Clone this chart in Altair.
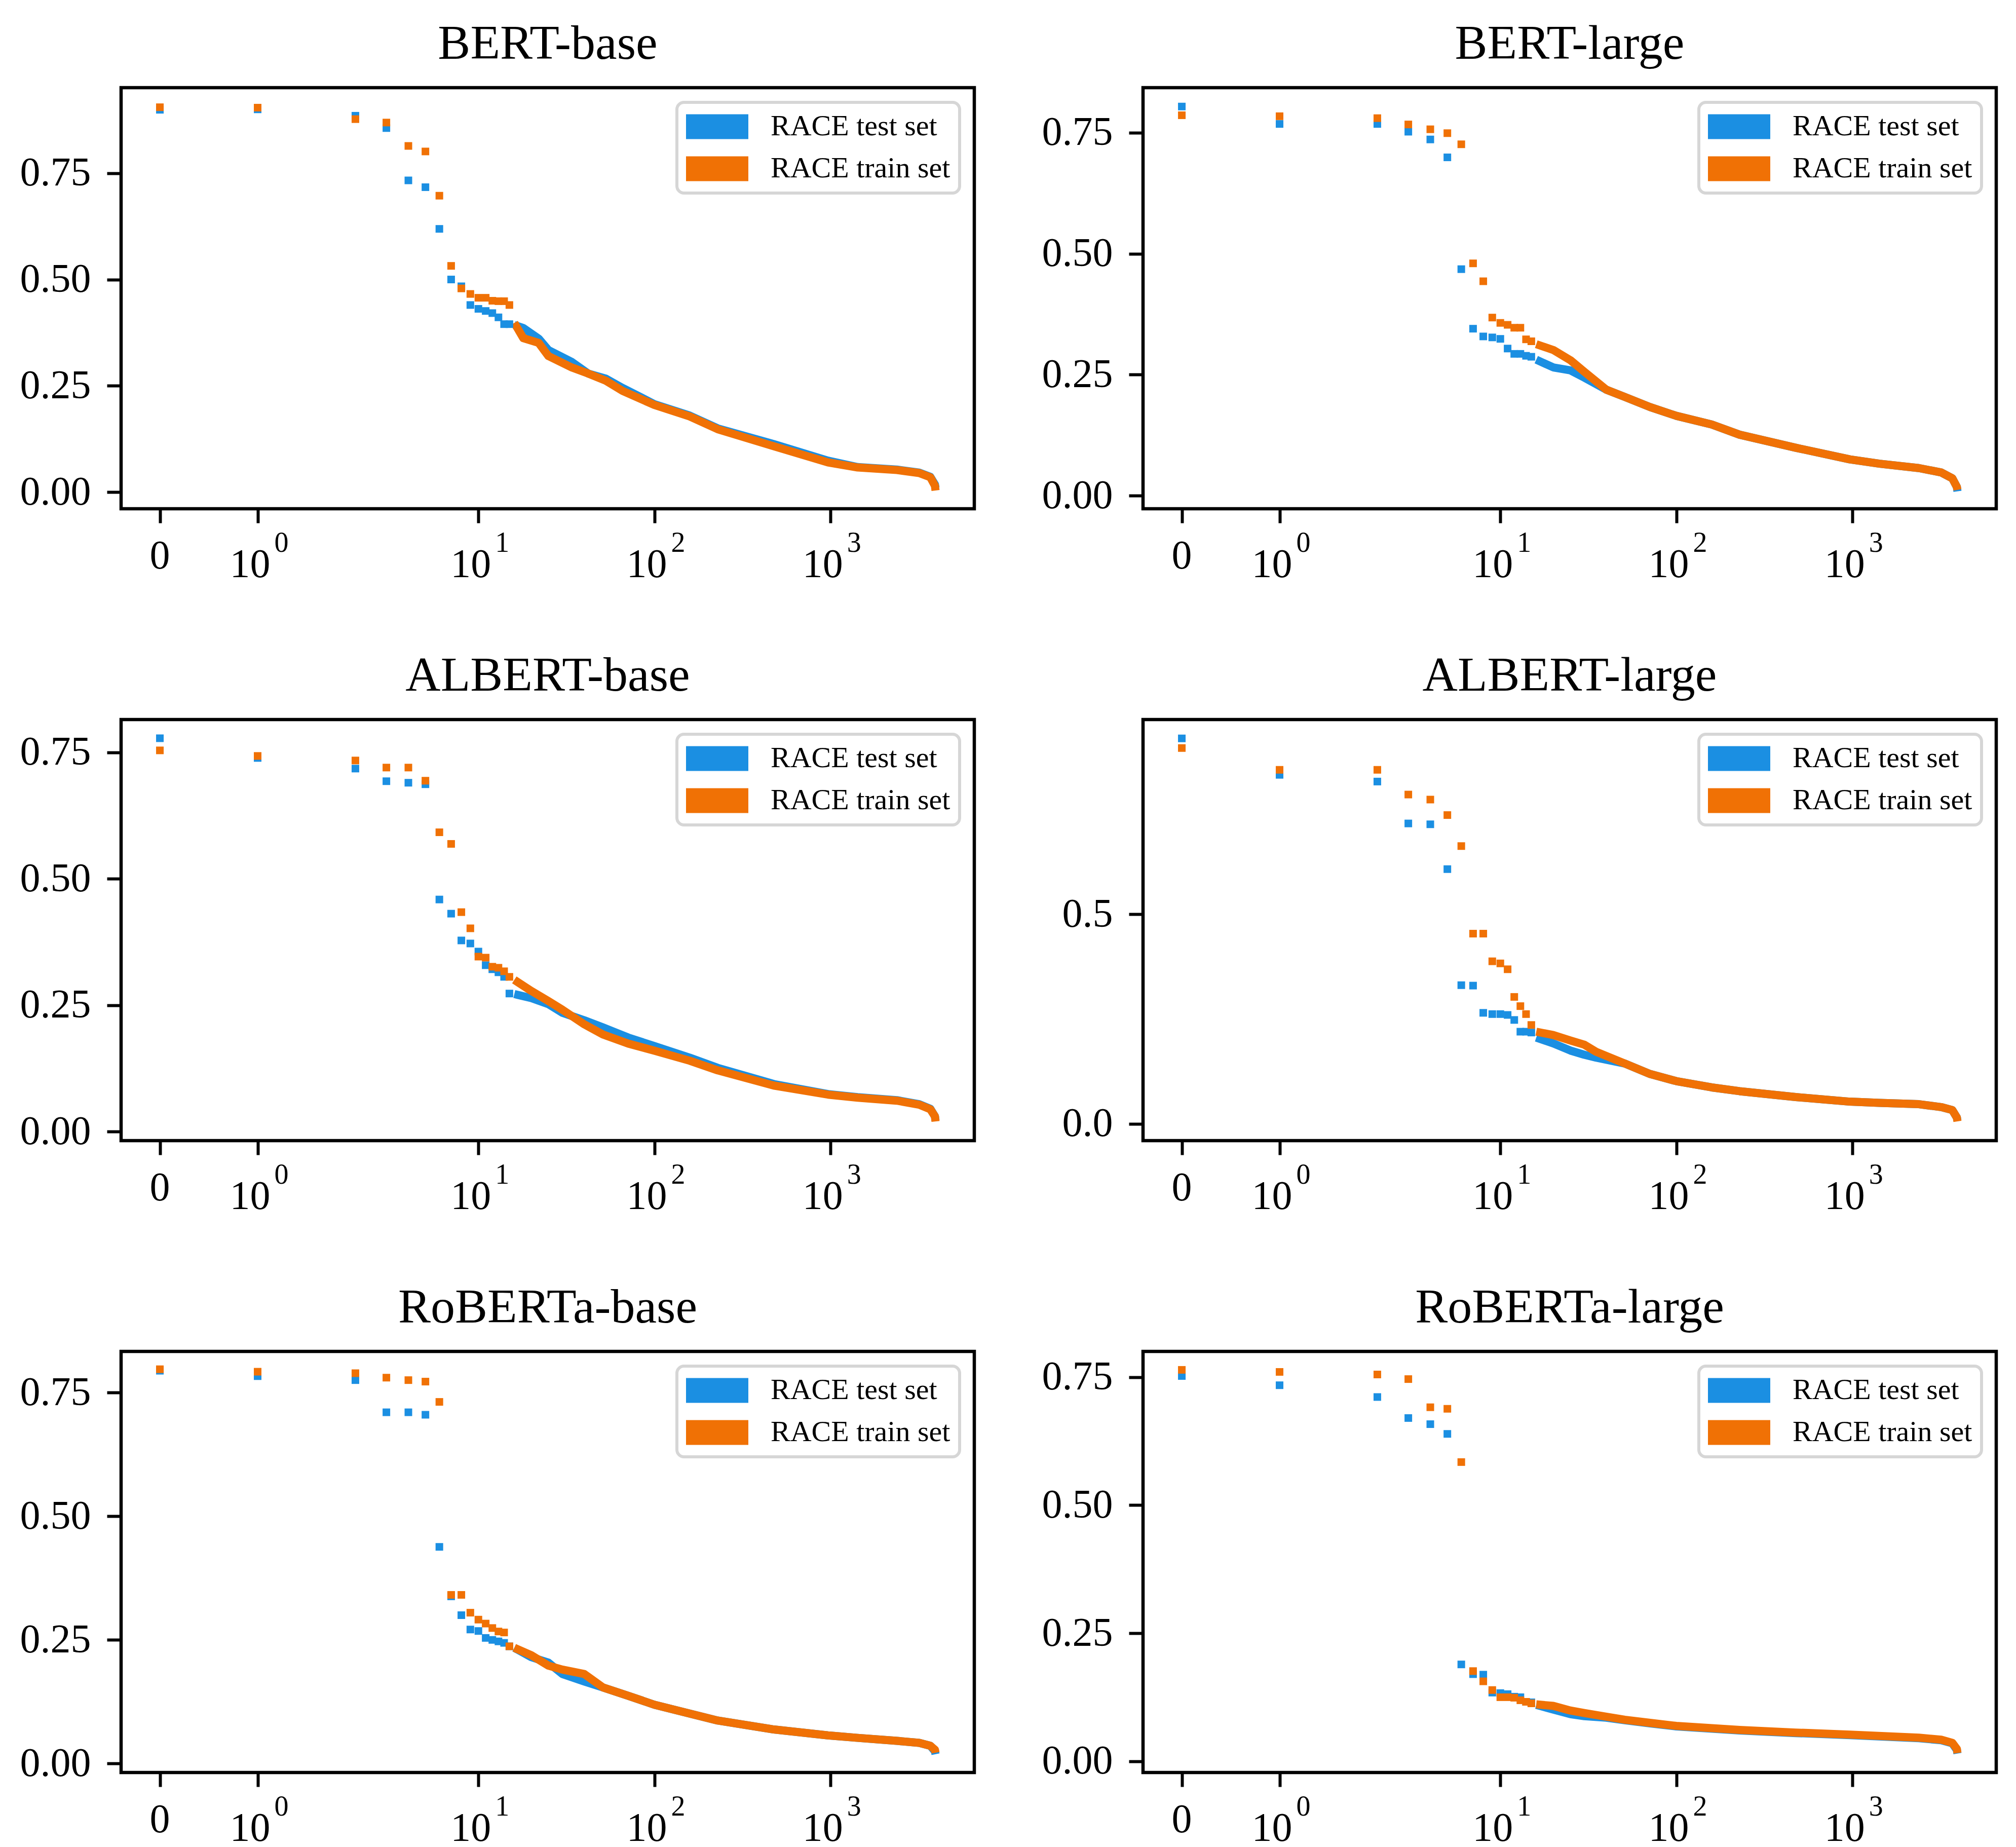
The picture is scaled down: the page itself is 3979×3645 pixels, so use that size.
import math
import altair as alt
import pandas as pd

FONT = "Liberation Serif"
BLUE = "#1b8fe2"
ORANGE = "#f07105"
SERIES = ["RACE test set", "RACE train set"]

# x tick labels (symlog axis, linthresh = 2)
X_TICK_RANKS = [0, 1, 10, 100, 1000]
X_TICK_BASE = ["0", "10", "10", "10", "10"]
X_TICK_EXP = ["", "0", "1", "2", "3"]
LAST_RANK = 3960

# ---------------- BERT-base ----------------
BERT_BASE_TEST_HEAD = [0.899, 0.900, 0.885, 0.856, 0.733, 0.717, 0.619, 0.500, 0.484, 0.440, 0.431, 0.426, 0.421, 0.411, 0.395, 0.395]
BERT_BASE_TRAIN_HEAD = [0.905, 0.904, 0.877, 0.869, 0.814, 0.801, 0.697, 0.532, 0.479, 0.466, 0.457, 0.457, 0.450, 0.449, 0.449, 0.440]
BERT_BASE_TAIL_RANKS = [16, 18, 22, 25, 34, 42, 53, 66, 100, 159, 229, 477, 970, 1430, 2390, 3200, 3700, 3930, 3960]
BERT_BASE_TEST_TAIL = [0.393, 0.386, 0.361, 0.334, 0.306, 0.279, 0.267, 0.245, 0.207, 0.180, 0.150, 0.113, 0.074, 0.059, 0.053, 0.046, 0.036, 0.018, 0.010]
BERT_BASE_TRAIN_TAIL = [0.398, 0.362, 0.351, 0.320, 0.293, 0.279, 0.262, 0.238, 0.205, 0.178, 0.148, 0.108, 0.070, 0.058, 0.052, 0.045, 0.035, 0.015, 0.004]

# ---------------- BERT-large ----------------
BERT_LARGE_TEST_HEAD = [0.804, 0.768, 0.768, 0.752, 0.736, 0.699, 0.468, 0.345, 0.329, 0.327, 0.324, 0.304, 0.293, 0.293, 0.289, 0.287]
BERT_LARGE_TRAIN_HEAD = [0.786, 0.784, 0.780, 0.767, 0.757, 0.749, 0.726, 0.480, 0.443, 0.368, 0.357, 0.353, 0.347, 0.347, 0.323, 0.319]
BERT_LARGE_TAIL_RANKS = [16, 20, 25, 30, 40, 51, 71, 100, 159, 229, 477, 970, 1430, 2390, 3200, 3700, 3930, 3960]
BERT_LARGE_TEST_TAIL = [0.281, 0.265, 0.259, 0.244, 0.219, 0.204, 0.183, 0.165, 0.147, 0.126, 0.099, 0.075, 0.066, 0.057, 0.048, 0.036, 0.018, 0.009]
BERT_LARGE_TRAIN_TAIL = [0.313, 0.301, 0.280, 0.256, 0.219, 0.204, 0.183, 0.165, 0.147, 0.126, 0.099, 0.075, 0.066, 0.057, 0.048, 0.036, 0.018, 0.012]

# ---------------- ALBERT-base ----------------
ALBERT_BASE_TEST_HEAD = [0.778, 0.739, 0.718, 0.693, 0.690, 0.687, 0.459, 0.431, 0.378, 0.372, 0.356, 0.329, 0.321, 0.315, 0.306, 0.273]
ALBERT_BASE_TRAIN_HEAD = [0.754, 0.743, 0.734, 0.720, 0.720, 0.694, 0.592, 0.569, 0.434, 0.402, 0.346, 0.344, 0.326, 0.324, 0.317, 0.306]
ALBERT_BASE_TAIL_RANKS = [16, 20, 25, 30, 40, 51, 71, 100, 159, 229, 477, 970, 1430, 2390, 3200, 3700, 3930, 3960]
ALBERT_BASE_TEST_TAIL = [0.272, 0.264, 0.252, 0.235, 0.220, 0.206, 0.186, 0.169, 0.146, 0.126, 0.094, 0.074, 0.068, 0.062, 0.054, 0.045, 0.030, 0.022]
ALBERT_BASE_TRAIN_TAIL = [0.300, 0.278, 0.258, 0.241, 0.212, 0.192, 0.174, 0.160, 0.140, 0.121, 0.091, 0.073, 0.067, 0.061, 0.053, 0.044, 0.030, 0.020]

# ---------------- ALBERT-large ----------------
ALBERT_LARGE_TEST_HEAD = [0.920, 0.833, 0.817, 0.717, 0.715, 0.608, 0.331, 0.330, 0.265, 0.262, 0.262, 0.260, 0.248, 0.220, 0.220, 0.218]
ALBERT_LARGE_TRAIN_HEAD = [0.897, 0.845, 0.845, 0.786, 0.774, 0.737, 0.663, 0.454, 0.454, 0.388, 0.383, 0.369, 0.303, 0.281, 0.262, 0.236]
ALBERT_LARGE_TAIL_RANKS = [16, 20, 25, 30, 35, 51, 71, 100, 159, 229, 477, 970, 1430, 2390, 3200, 3700, 3930, 3960]
ALBERT_LARGE_TEST_TAIL = [0.206, 0.192, 0.175, 0.165, 0.158, 0.144, 0.119, 0.102, 0.087, 0.078, 0.064, 0.053, 0.050, 0.047, 0.040, 0.033, 0.015, 0.008]
ALBERT_LARGE_TRAIN_TAIL = [0.220, 0.212, 0.199, 0.189, 0.172, 0.144, 0.119, 0.102, 0.087, 0.078, 0.064, 0.053, 0.050, 0.047, 0.040, 0.033, 0.015, 0.006]

# ---------------- RoBERTa-base ----------------
ROBERTA_BASE_TEST_HEAD = [0.794, 0.783, 0.775, 0.710, 0.710, 0.705, 0.438, 0.338, 0.300, 0.271, 0.268, 0.254, 0.250, 0.247, 0.244, 0.237]
ROBERTA_BASE_TRAIN_HEAD = [0.797, 0.792, 0.789, 0.780, 0.775, 0.772, 0.731, 0.341, 0.341, 0.305, 0.291, 0.283, 0.274, 0.267, 0.265, 0.237]
ROBERTA_BASE_TAIL_RANKS = [16, 20, 25, 30, 40, 51, 71, 100, 159, 229, 477, 970, 1430, 2390, 3200, 3700, 3930, 3960]
ROBERTA_BASE_TEST_TAIL = [0.234, 0.215, 0.204, 0.181, 0.166, 0.154, 0.137, 0.119, 0.101, 0.087, 0.069, 0.057, 0.052, 0.046, 0.042, 0.036, 0.025, 0.019]
ROBERTA_BASE_TRAIN_TAIL = [0.234, 0.219, 0.198, 0.190, 0.181, 0.154, 0.137, 0.119, 0.101, 0.087, 0.069, 0.057, 0.052, 0.046, 0.042, 0.036, 0.028, 0.022]

# ---------------- RoBERTa-large ----------------
ROBERTA_LARGE_TEST_HEAD = [0.752, 0.734, 0.711, 0.670, 0.658, 0.639, 0.189, 0.170, 0.169, 0.134, 0.133, 0.131, 0.126, 0.125, 0.116, 0.115]
ROBERTA_LARGE_TRAIN_HEAD = [0.764, 0.760, 0.755, 0.746, 0.691, 0.688, 0.584, 0.176, 0.156, 0.139, 0.125, 0.125, 0.124, 0.119, 0.116, 0.113]
ROBERTA_LARGE_TAIL_RANKS = [16, 20, 25, 30, 40, 51, 71, 100, 229, 477, 970, 2390, 3200, 3700, 3930, 3960]
ROBERTA_LARGE_TEST_TAIL = [0.110, 0.101, 0.092, 0.088, 0.085, 0.080, 0.074, 0.068, 0.060, 0.055, 0.051, 0.045, 0.041, 0.035, 0.022, 0.015]
ROBERTA_LARGE_TRAIN_TAIL = [0.111, 0.108, 0.099, 0.094, 0.087, 0.081, 0.075, 0.069, 0.061, 0.056, 0.052, 0.046, 0.042, 0.036, 0.024, 0.016]

PANELS = [
    ("BERT-base", BERT_BASE_TEST_HEAD, BERT_BASE_TRAIN_HEAD, BERT_BASE_TAIL_RANKS, BERT_BASE_TEST_TAIL, BERT_BASE_TRAIN_TAIL, [-0.039, 0.951], [0, 0.25, 0.5, 0.75], ".2f"),
    ("BERT-large", BERT_LARGE_TEST_HEAD, BERT_LARGE_TRAIN_HEAD, BERT_LARGE_TAIL_RANKS, BERT_LARGE_TEST_TAIL, BERT_LARGE_TRAIN_TAIL, [-0.027, 0.843], [0, 0.25, 0.5, 0.75], ".2f"),
    ("ALBERT-base", ALBERT_BASE_TEST_HEAD, ALBERT_BASE_TRAIN_HEAD, ALBERT_BASE_TAIL_RANKS, ALBERT_BASE_TEST_TAIL, ALBERT_BASE_TRAIN_TAIL, [-0.018, 0.815], [0, 0.25, 0.5, 0.75], ".2f"),
    ("ALBERT-large", ALBERT_LARGE_TEST_HEAD, ALBERT_LARGE_TRAIN_HEAD, ALBERT_LARGE_TAIL_RANKS, ALBERT_LARGE_TEST_TAIL, ALBERT_LARGE_TRAIN_TAIL, [-0.040, 0.965], [0, 0.5], ".1f"),
    ("RoBERTa-base", ROBERTA_BASE_TEST_HEAD, ROBERTA_BASE_TRAIN_HEAD, ROBERTA_BASE_TAIL_RANKS, ROBERTA_BASE_TEST_TAIL, ROBERTA_BASE_TRAIN_TAIL, [-0.018, 0.833], [0, 0.25, 0.5, 0.75], ".2f"),
    ("RoBERTa-large", ROBERTA_LARGE_TEST_HEAD, ROBERTA_LARGE_TRAIN_HEAD, ROBERTA_LARGE_TAIL_RANKS, ROBERTA_LARGE_TEST_TAIL, ROBERTA_LARGE_TRAIN_TAIL, [-0.022, 0.800], [0, 0.25, 0.5, 0.75], ".2f"),
]

W, H = 1684, 831
SYMLOG = "datum.rank <= 2 ? datum.rank * 10 / 9 : 2 * (10 / 9 + log(datum.rank / 2) / LN10)"


def symlog_pos(r):
    return r * 10 / 9 if r <= 2 else 2 * (10 / 9 + math.log10(r / 2))


U_MAX = symlog_pos(LAST_RANK)
X_DOMAIN = [-0.05 * U_MAX, 1.05 * U_MAX]
X_TICK_POS = [symlog_pos(r) for r in X_TICK_RANKS]

ticks_df = pd.DataFrame({"rank": X_TICK_RANKS, "base": X_TICK_BASE, "exp": X_TICK_EXP})


def make_panel(title, test_head, train_head, tail_ranks, test_tail, train_tail, ydom, yticks, yfmt):
    head = pd.DataFrame({
        "rank": list(range(len(test_head))) + list(range(len(train_head))),
        "value": test_head + train_head,
        "series": [SERIES[0]] * len(test_head) + [SERIES[1]] * len(train_head),
    })
    tail_test = pd.DataFrame({"rank": tail_ranks, "value": test_tail})
    tail_train = pd.DataFrame({"rank": tail_ranks, "value": train_tail})

    xaxis = alt.Axis(values=X_TICK_POS, labels=False, ticks=True, tickSize=28, tickWidth=6,
                     tickColor="black", domain=False, grid=False, title=None)
    x = alt.X("u:Q", scale=alt.Scale(domain=X_DOMAIN, nice=False, zero=False), axis=xaxis)
    y = alt.Y("value:Q", scale=alt.Scale(domain=ydom, nice=False, zero=False),
              axis=alt.Axis(values=yticks, format=yfmt, tickSize=28, tickWidth=6, tickColor="black",
                            domain=False, grid=False, title=None, labelPadding=32,
                            labelFont=FONT, labelFontSize=80, labelColor="black"))
    cscale = alt.Scale(domain=SERIES, range=[BLUE, ORANGE])
    legend = alt.Legend(title=None, orient="top-right", offset=29,
                        symbolType="M-1,-0.4H1V0.4H-1Z", symbolSize=15129,
                        symbolStrokeWidth=0, symbolOpacity=1,
                        labelFont=FONT, labelFontSize=58, labelColor="black", labelOffset=44,
                        labelLimit=2000, clipHeight=60, rowPadding=23, padding=18,
                        strokeColor="#d6d6d6", fillColor="white", cornerRadius=14)

    line_test = alt.Chart(tail_test).transform_calculate(u=SYMLOG).mark_line(
        strokeWidth=16, strokeJoin="round", strokeCap="butt", color=BLUE
    ).encode(x=x, y=y, order="rank:Q")
    line_train = alt.Chart(tail_train).transform_calculate(u=SYMLOG).mark_line(
        strokeWidth=16, strokeJoin="round", strokeCap="butt", color=ORANGE
    ).encode(x=x, y=y, order="rank:Q")

    points = alt.Chart(head).transform_calculate(u=SYMLOG).mark_square(
        size=225, opacity=1, filled=True
    ).encode(x=x, y=y, color=alt.Color("series:N", scale=cscale, legend=legend))

    zero_lab = alt.Chart(ticks_df).transform_filter("datum.rank == 0").transform_calculate(u=SYMLOG).mark_text(
        font=FONT, fontSize=80, color="black", align="center", baseline="alphabetic"
    ).encode(x=x, y=alt.value(H + 118), text="base:N")
    ten_lab = alt.Chart(ticks_df).transform_filter("datum.rank > 0").transform_calculate(u=SYMLOG).mark_text(
        font=FONT, fontSize=80, color="black", align="right", baseline="alphabetic", dx=25
    ).encode(x=x, y=alt.value(H + 135), text="base:N")
    exp_lab = alt.Chart(ticks_df).transform_filter("datum.rank > 0").transform_calculate(u=SYMLOG).mark_text(
        font=FONT, fontSize=56, color="black", align="left", baseline="alphabetic", dx=33
    ).encode(x=x, y=alt.value(H + 85), text="exp:N")

    return alt.layer(line_test, line_train, points, zero_lab, ten_lab, exp_lab).properties(
        width=W, height=H,
        title=alt.TitleParams(text=title, font=FONT, fontSize=96, fontWeight="normal", color="black",
                              anchor="middle", frame="group", baseline="alphabetic", offset=-39),
    )


panels = [make_panel(*p) for p in PANELS]

chart = alt.concat(
    *panels, columns=2, spacing={"row": 416, "column": 333}, bounds="flush"
).resolve_scale(color="independent").resolve_legend(color="independent").properties(
    padding={"left": 27, "top": 27, "right": 10, "bottom": 10},
    background="white",
).configure_view(
    stroke="black", strokeWidth=6.5
).configure_legend(
    strokeWidth=6
)

chart.save("out.html", embed_options={"renderer": "svg", "actions": False})
